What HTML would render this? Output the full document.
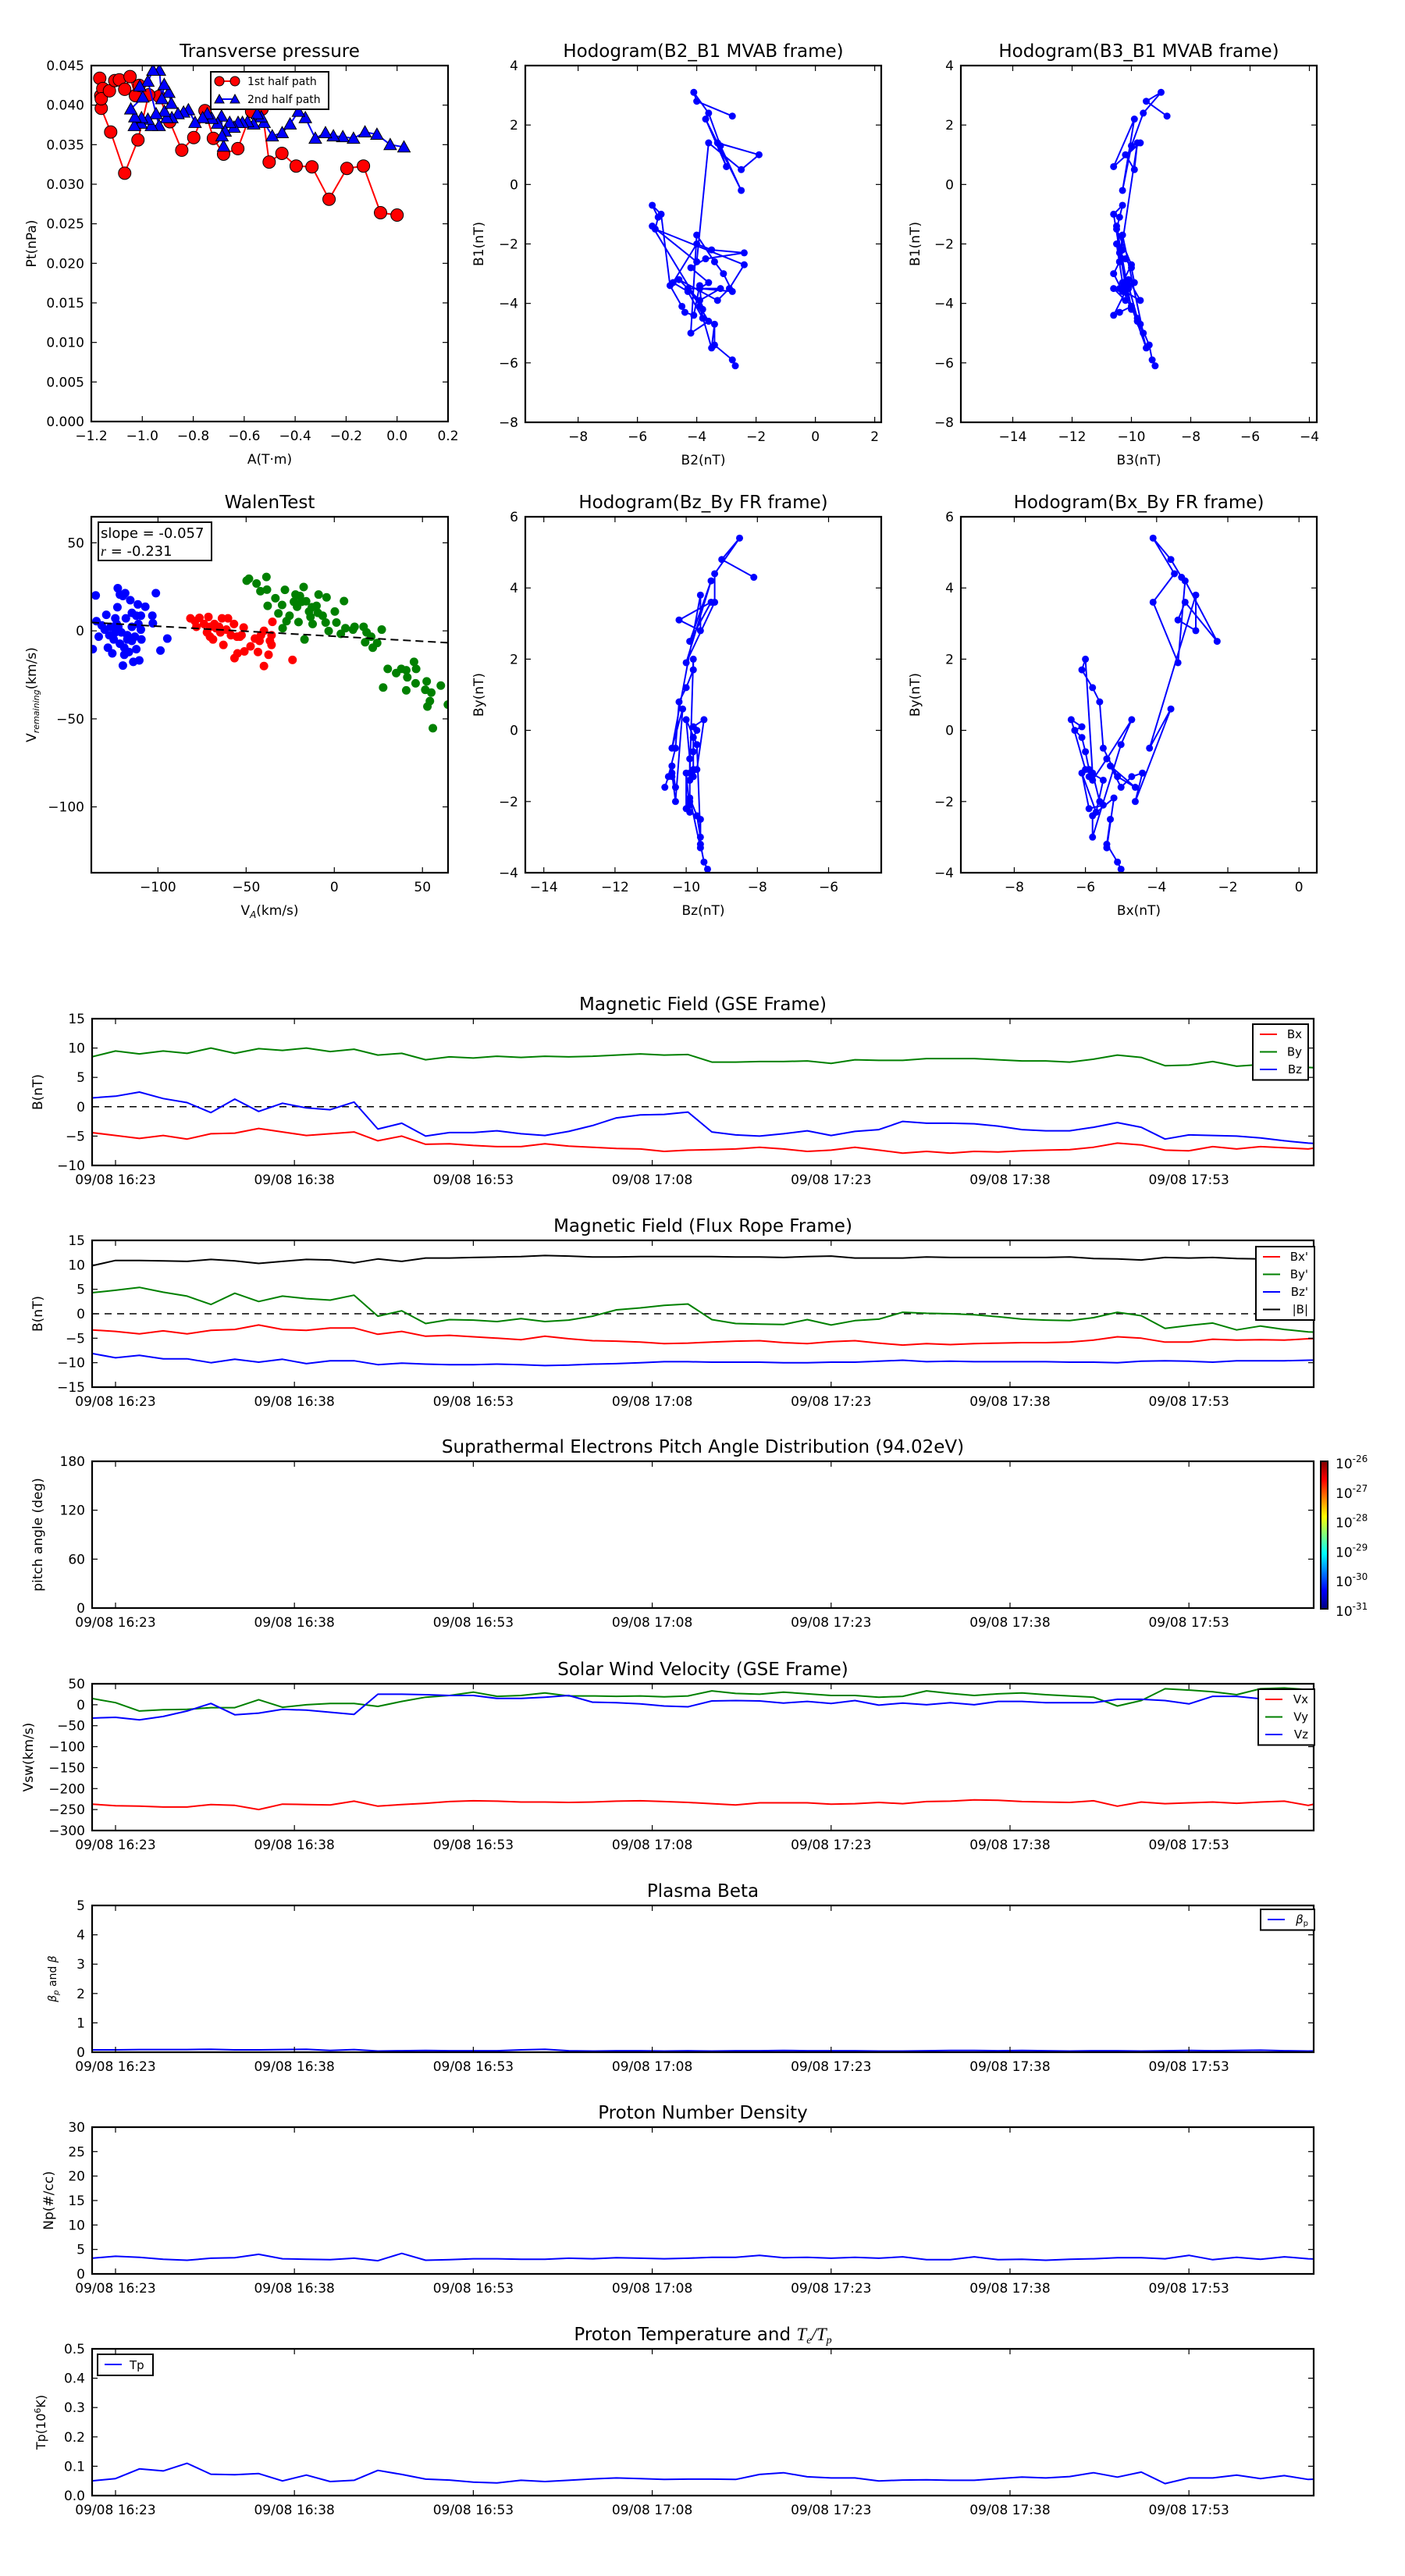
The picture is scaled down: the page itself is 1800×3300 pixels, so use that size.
<!DOCTYPE html>
<html><head><meta charset="utf-8"><title>Flux rope analysis</title>
<style>
html,body{margin:0;padding:0;background:#fff;}
svg{display:block;}
text{font-family:"DejaVu Sans","Liberation Sans",sans-serif;}
</style></head>
<body>
<svg id="figure" xmlns="http://www.w3.org/2000/svg" width="1800" height="3300" viewBox="0 0 1800 3300">
<rect x="0" y="0" width="1800" height="3300" fill="#fff"/>
<defs>
<linearGradient id="jet" x1="0" y1="1" x2="0" y2="0">
<stop offset="0" stop-color="#00007f"/><stop offset="0.125" stop-color="#0000ff"/><stop offset="0.375" stop-color="#00ffff"/><stop offset="0.625" stop-color="#ffff00"/><stop offset="0.875" stop-color="#ff0000"/><stop offset="1" stop-color="#7f0000"/>
</linearGradient>
</defs>
</svg>
<script>
// ---------- data ----------
const times=[-2,0,2,4,6,8,10,12,14,16,18,20,22,24,26,28,30,32,34,36,38,40,42,44,46,48,50,52,54,56,58,60,62,64,66,68,70,72,74,76,78,80,82,84,86,88,90,92,94,96,98,100,102];
const timeTicks=[0,15,30,45,60,75,90];
const timeLabels=['09/08 16:23','09/08 16:38','09/08 16:53','09/08 17:08','09/08 17:23','09/08 17:38','09/08 17:53'];
const bxGSE=[-4.4,-4.9,-5.4,-4.9,-5.5,-4.6,-4.5,-3.7,-4.3,-4.9,-4.6,-4.3,-5.8,-5.0,-6.4,-6.3,-6.6,-6.8,-6.8,-6.3,-6.7,-6.9,-7.1,-7.2,-7.6,-7.4,-7.3,-7.2,-6.9,-7.2,-7.6,-7.4,-6.9,-7.4,-7.9,-7.6,-7.9,-7.6,-7.7,-7.5,-7.4,-7.3,-6.9,-6.2,-6.5,-7.4,-7.5,-6.8,-7.2,-6.8,-7.0,-7.2,-6.6];
const byGSE=[8.5,9.5,9.0,9.5,9.1,10.0,9.1,9.9,9.6,10.0,9.4,9.8,8.8,9.1,8.0,8.5,8.3,8.6,8.4,8.6,8.5,8.6,8.8,9.0,8.8,8.9,7.6,7.6,7.7,7.7,7.8,7.4,8.0,7.9,7.9,8.2,8.2,8.2,8.0,7.8,7.8,7.6,8.1,8.8,8.4,7.0,7.1,7.7,6.9,7.2,7.0,6.7,6.5];
const bzGSE=[1.5,1.8,2.5,1.4,0.7,-1.0,1.3,-0.8,0.6,-0.2,-0.5,0.8,-3.8,-2.8,-5.0,-4.4,-4.4,-4.1,-4.6,-4.9,-4.2,-3.2,-1.9,-1.4,-1.3,-0.9,-4.3,-4.8,-5.0,-4.6,-4.1,-4.9,-4.2,-3.9,-2.5,-2.8,-2.8,-2.9,-3.3,-3.9,-4.1,-4.1,-3.5,-2.7,-3.5,-5.5,-4.8,-4.9,-5.0,-5.3,-5.8,-6.2,-6.4];
const bxFR=[-3.3,-3.6,-4.1,-3.5,-4.1,-3.4,-3.2,-2.3,-3.2,-3.4,-2.9,-2.9,-4.2,-3.6,-4.6,-4.4,-4.7,-5.0,-5.3,-4.6,-5.1,-5.5,-5.6,-5.8,-6.1,-6.0,-5.8,-5.6,-5.5,-5.9,-6.1,-5.7,-5.5,-6.0,-6.4,-6.1,-6.3,-6.1,-6.0,-5.9,-5.9,-5.8,-5.4,-4.7,-5.0,-5.8,-5.8,-5.2,-5.4,-5.3,-5.4,-5.1,-5.0];
const byFR=[4.3,4.8,5.4,4.4,3.6,1.9,4.2,2.5,3.6,3.1,2.8,3.8,-0.5,0.6,-2.0,-1.2,-1.3,-1.6,-1.0,-1.6,-1.3,-0.5,0.8,1.2,1.7,2.0,-1.2,-2.0,-2.1,-2.2,-1.2,-2.3,-1.4,-1.1,0.3,0.1,0.0,-0.2,-0.6,-1.1,-1.3,-1.4,-0.8,0.3,-0.4,-3.0,-2.4,-1.9,-3.3,-2.5,-3.2,-3.7,-3.9];
const bzFR=[-8.1,-9.0,-8.5,-9.2,-9.2,-10.0,-9.3,-9.9,-9.3,-10.2,-9.6,-9.6,-10.4,-10.1,-10.3,-10.4,-10.4,-10.3,-10.4,-10.6,-10.5,-10.3,-10.2,-10.0,-9.8,-9.8,-9.9,-9.9,-9.9,-10.0,-10.0,-9.9,-9.9,-9.7,-9.5,-9.8,-9.7,-9.8,-9.8,-9.8,-9.8,-9.9,-9.9,-10.0,-9.7,-9.6,-9.7,-9.9,-9.6,-9.6,-9.6,-9.5,-9.4];
const bAbs=[9.8,10.9,10.9,10.8,10.7,11.1,10.8,10.3,10.7,11.1,11.0,10.4,11.2,10.7,11.4,11.4,11.5,11.6,11.7,11.9,11.8,11.6,11.6,11.7,11.7,11.7,11.7,11.6,11.6,11.5,11.7,11.8,11.4,11.4,11.4,11.6,11.5,11.5,11.5,11.5,11.5,11.6,11.3,11.2,11.0,11.5,11.4,11.5,11.3,11.2,11.4,11.4,11.4];
const vx=[-237,-241,-242,-244,-244,-238,-240,-250,-237,-238,-239,-230,-242,-238,-235,-231,-229,-230,-232,-232,-233,-232,-230,-229,-231,-233,-236,-239,-234,-234,-234,-237,-236,-233,-236,-231,-230,-227,-228,-231,-232,-233,-229,-242,-232,-236,-234,-232,-235,-232,-230,-240,-228];
const vy=[15,5,-15,-12,-11,-7,-7,12,-6,0,3,3,-4,8,18,22,30,20,22,28,21,21,20,21,19,21,33,27,25,30,26,22,22,18,20,33,27,22,26,28,24,21,18,-3,10,38,35,31,24,38,40,36,34];
const vz=[-32,-30,-36,-28,-15,3,-24,-20,-11,-13,-18,-23,25,25,24,22,22,15,15,18,22,6,5,2,-3,-5,9,10,9,4,8,3,10,-1,4,0,5,0,8,8,5,5,5,13,13,10,2,20,20,14,30,28,28];
const betaP=[0.08,0.08,0.09,0.09,0.09,0.1,0.08,0.08,0.09,0.1,0.06,0.09,0.04,0.05,0.06,0.05,0.05,0.05,0.08,0.1,0.05,0.04,0.05,0.05,0.04,0.05,0.04,0.05,0.05,0.06,0.05,0.05,0.05,0.04,0.04,0.05,0.06,0.06,0.05,0.06,0.05,0.04,0.05,0.05,0.04,0.05,0.06,0.05,0.06,0.07,0.05,0.04,0.05];
const np=[3.2,3.6,3.4,3.0,2.8,3.2,3.3,4.0,3.1,3.0,2.9,3.2,2.7,4.2,2.8,2.9,3.1,3.1,3.0,3.0,3.2,3.1,3.3,3.2,3.1,3.2,3.4,3.4,3.8,3.3,3.4,3.2,3.4,3.2,3.5,2.9,2.9,3.5,2.9,3.0,2.8,3.0,3.1,3.3,3.3,3.1,3.8,2.9,3.4,3.0,3.5,3.1,2.9];
const tp=[0.050,0.058,0.091,0.084,0.110,0.073,0.071,0.075,0.050,0.070,0.048,0.052,0.086,0.072,0.056,0.053,0.046,0.043,0.052,0.048,0.052,0.057,0.060,0.058,0.055,0.056,0.056,0.055,0.072,0.078,0.064,0.060,0.060,0.050,0.053,0.054,0.052,0.052,0.058,0.063,0.060,0.065,0.078,0.063,0.080,0.041,0.060,0.060,0.070,0.058,0.068,0.055,0.058];
// MVAB components
const b1=[2.3,2.8,3.1,2.4,1.3,-0.2,2.2,0.6,1.4,1.0,0.5,1.4,-2.6,-1.4,-4.2,-3.5,-3.5,-3.9,-3.2,-3.9,-3.5,-2.7,-1.5,-1.1,-0.7,-1.0,-3.4,-4.1,-4.3,-4.4,-3.4,-4.5,-3.6,-3.3,-2.0,-2.2,-2.3,-2.5,-2.8,-3.3,-3.5,-3.6,-3.0,-2.6,-1.7,-5.0,-4.6,-4.1,-5.5,-4.7,-5.4,-5.9,-6.1];
const b2=[-2.8,-4.0,-4.1,-3.6,-3.2,-2.5,-3.7,-3.0,-3.3,-1.9,-2.5,-3.6,-4.0,-5.5,-3.8,-4.3,-3.2,-3.9,-4.6,-3.3,-2.9,-2.4,-5.4,-5.3,-5.5,-5.2,-4.9,-4.5,-4.4,-4.1,-3.9,-3.8,-4.3,-4.8,-4.0,-3.5,-2.4,-3.7,-4.2,-3.6,-3.9,-2.8,-3.1,-3.4,-4.0,-4.2,-3.6,-3.9,-3.5,-3.4,-3.4,-2.8,-2.7];
const b3=[-8.8,-9.5,-9.0,-9.6,-10.0,-10.3,-9.9,-10.6,-9.7,-10.2,-9.9,-9.8,-10.4,-10.5,-10.0,-10.3,-10.6,-10.2,-10.1,-9.7,-10.4,-10.0,-10.5,-10.4,-10.3,-10.6,-10.2,-10.0,-10.4,-10.6,-10.1,-9.8,-10.2,-10.3,-10.5,-10.3,-10.4,-10.2,-10.0,-9.9,-10.1,-10.3,-10.6,-10.4,-10.3,-9.6,-9.8,-10.0,-9.5,-9.7,-9.4,-9.3,-9.2];
// transverse pressure
const ptRedA=[0,-0.065,-0.132,-0.197,-0.267,-0.334,-0.396,-0.452,-0.502,-0.53,-0.571,-0.625,-0.681,-0.721,-0.754,-0.798,-0.845,-0.892,-0.934,-0.975,-1.017,-1.069,-1.124,-1.161,-1.163,-1.167,-1.155,-1.161,-1.129,-1.108,-1.09,-1.069,-1.048,-1.027,-1.012];
const ptRedP=[0.0261,0.0264,0.0323,0.032,0.0281,0.0322,0.0323,0.0339,0.0328,0.0395,0.0392,0.0345,0.0338,0.0358,0.0393,0.0359,0.0343,0.0379,0.0411,0.0413,0.0356,0.0314,0.0366,0.0396,0.0412,0.0434,0.0421,0.0408,0.0418,0.0431,0.0432,0.042,0.0436,0.0412,0.0425];
const ptBlueA=[0.027,-0.027,-0.079,-0.126,-0.171,-0.213,-0.25,-0.281,-0.321,-0.36,-0.387,-0.42,-0.451,-0.49,-0.522,-0.533,-0.549,-0.563,-0.587,-0.607,-0.624,-0.64,-0.657,-0.675,-0.681,-0.687,-0.689,-0.704,-0.727,-0.745,-0.763,-0.793,-0.819,-0.838,-0.86,-0.884,-0.904,-0.913,-0.886,-0.896,-0.914,-0.923,-0.933,-0.958,-0.978,-0.946,-0.934,-0.964,-0.978,-1.005,-1.003,-1.031,-1.029,-1.045,-0.998,-1.01];
const ptBlueP=[0.0347,0.035,0.0363,0.0366,0.0358,0.036,0.0361,0.0365,0.0358,0.0384,0.0392,0.0376,0.0365,0.0361,0.0378,0.0385,0.0389,0.0376,0.0379,0.0378,0.0378,0.0372,0.0378,0.0367,0.0348,0.0361,0.0386,0.0377,0.0383,0.0389,0.0384,0.0378,0.0394,0.0391,0.0389,0.0384,0.0384,0.0392,0.0402,0.0416,0.0426,0.0408,0.0444,0.0444,0.043,0.0389,0.0374,0.0374,0.0382,0.0377,0.0384,0.0374,0.0385,0.0395,0.041,0.0424];
// Walen test
const walenBlueX=[-137,-135.3,-134.9,-133.6,-129.3,-128.4,-125.9,-124.2,-122.8,-123,-122.5,-121.6,-119.9,-119.9,-118.6,-118.2,-117.4,-116.5,-115.7,-114.8,-114.8,-114,-112.3,-111.4,-111.1,-110.6,-109.7,-109.4,-109.7,-107.2,-103.2,-102.9,-101.2,-98.6,-94.7,-130.2,-127.6,-125.1,-121.6,-119.1,-120.8,-123.4,-114.8,-113.1,-117.4,-124.2,-131.9,-126.8,-112.3,-119.1];
const walenBlueY=[-10.4,20.1,5.5,-3.3,9.1,-9.6,-12.8,7.1,24.2,13.4,2.3,20.6,19.8,-19.7,21.4,7.1,-2.5,-12,17.4,10.2,-5.7,-17.6,-10.4,15,3.9,-16.8,8.6,-4.9,0.7,13.7,8.6,4.3,21.4,-11.2,-4.4,0.7,-2.5,-4.9,-7.3,-9.6,-0.9,3.9,2.3,-3.3,-4.9,-0.9,3.1,2.3,8.6,-13.6];
const walenRedX=[-81.6,-79,-76.5,-78.2,-73.9,-71.4,-72.2,-70.5,-68.8,-68,-65.4,-63.7,-64.6,-62.9,-61.2,-60.3,-58.6,-56.9,-55.2,-53.5,-51.4,-52.6,-56.6,-54.9,-51,-47.5,-45,-43.3,-42.4,-41.6,-39.9,-39.9,-37.3,-36.5,-35.6,-35.1,-35.6,-23.7,-67.1,-70.5];
const walenRedY=[7.1,5.5,7.4,2.3,3.9,7.9,-0.9,-3.3,-4.9,3.9,2.3,7.1,-0.9,-8,0.7,7.1,-2.5,3.9,-3.3,-3.3,1.9,-2.5,-15.5,-12.8,-11.7,-8.8,-4.4,-12,-5.7,-2.5,0,-20,-13.6,-5.7,-8,5.1,-2.5,-16.5,1.5,2.3];
const walenGreenX=[-49.7,-48.4,-44.1,-41.9,-38.5,-38.2,-37.8,-33.4,-31.7,-29.6,-29.3,-28,-27.1,-25.4,-22,-21.1,-20.3,-18.6,-17.4,-16.9,-16,-14.3,-13.5,-12.3,-10.1,-8.9,-6.6,-4.9,-4.4,-3.2,0.3,1.2,3.7,5.5,6.3,10.6,11.5,16.6,17.5,18.3,20.9,21.8,24.3,26.9,27.7,30.3,35.1,38,40.8,41.4,40.8,45.2,46.4,46.1,52.4,51.6,55,54.2,52.8,55.9,60.4,64.4,-19.5,-22.9,-12.7,-9.3];
const walenGreenY=[28.5,29.6,26.9,22.5,30.6,23.4,14.2,18.5,9.9,14.7,1.5,23.3,5.5,8.6,20.6,13.7,5,16.5,24.9,-4.9,16.8,11,7.9,3.9,14.2,20.6,8.6,4.7,19,-0.1,11,4.7,-1.7,16.9,1.5,0.7,2.3,2.3,-6.5,-0.9,-3.3,-9.6,-6.9,0.7,-32.2,-21.6,-24,-21.6,-22.4,-26.4,-33.8,-17.6,-21.6,-29.8,-28.7,-33.5,-35.1,-39.9,-43,-55.3,-31.1,-41.9,19.8,16.5,13.4,10.2];
const walenSlope=[-0.057];
const walenIntercept=[-3.1];

// ---------- helpers ----------
const NS='http://www.w3.org/2000/svg';
const svg=document.getElementById('figure');
function mk(tag, attrs, parent, name){
  const e=document.createElementNS(NS,tag);
  for(const k in attrs) e.setAttribute(k, attrs[k]);
  
  
  parent.appendChild(e);
  return e;
}
function txt(parent,x,y,s,o,name){
  const t=mk('text',{x:x,y:y,'font-size':o.fs||17,'text-anchor':o.anchor||'middle',fill:'#000'},parent,name);
  if(o.rot) t.setAttribute('transform','rotate(-90 '+x+' '+y+')');
  if(o.html) t.innerHTML=s; else t.textContent=s;
  return t;
}
const fmtM=v=>String(v).replace('-','\u2212');
let clipN=0;
function panel(c){
  const g=mk('g',{},svg,c.name);
  const sx=v=>c.L+(v-c.x0)/(c.x1-c.x0)*(c.R-c.L);
  const sy=v=>c.B-(v-c.y0)/(c.y1-c.y0)*(c.B-c.T);
  const id='clip'+(clipN++);
  const cp=mk('clipPath',{id:id},g,c.name+'-clip');
  mk('rect',{x:c.L,y:c.T,width:c.R-c.L,height:c.B-c.T},cp,c.name+'-clip-rect');
  const data=mk('g',{'clip-path':'url(#'+id+')'},g,c.name+'-data');
  return {g:g,data:data,sx:sx,sy:sy,c:c};
}
function finish(p){
  const c=p.c, g=p.g, tl=7;
  const ax=mk('g',{},g,c.name+'-axes');
  c.xt.forEach((v,i)=>{
    const x=p.sx(v);
    mk('line',{x1:x,y1:c.B,x2:x,y2:c.B-tl,stroke:'#000','stroke-width':1.2},ax,'x-tick');
    mk('line',{x1:x,y1:c.T,x2:x,y2:c.T+tl,stroke:'#000','stroke-width':1.2},ax,'x-tick-top');
    txt(ax,x,c.B+24,c.xl[i],{fs:c.fs||17},'x-tick-label');
  });
  c.yt.forEach((v,i)=>{
    const y=p.sy(v);
    mk('line',{x1:c.L,y1:y,x2:c.L+tl,y2:y,stroke:'#000','stroke-width':1.2},ax,'y-tick');
    mk('line',{x1:c.R,y1:y,x2:c.R-tl,y2:y,stroke:'#000','stroke-width':1.2},ax,'y-tick-right');
    txt(ax,c.L-9,y+6,c.yl[i],{fs:c.fs||17,anchor:'end'},'y-tick-label');
  });
  mk('rect',{x:c.L,y:c.T,width:c.R-c.L,height:c.B-c.T,fill:'none',stroke:'#000','stroke-width':2.2},ax,c.name+'-frame');
  txt(ax,(c.L+c.R)/2,c.T-11,c.title,{fs:23,html:true},'chart-title');
  if(c.xlabel) txt(ax,(c.L+c.R)/2,c.B+54,c.xlabel,{fs:17,html:true},'x-axis-title');
  if(c.ylabel) txt(ax,c.ylx,(c.T+c.B)/2,c.ylabel,{fs:c.ylfs||17,rot:true,html:true},'y-axis-title');
}
function line(p,xs,ys,color,w,name){
  const pts=xs.map((x,i)=>p.sx(x).toFixed(1)+','+p.sy(ys[i]).toFixed(1)).join(' ');
  return mk('polyline',{points:pts,fill:'none',stroke:color,'stroke-width':w,'stroke-linejoin':'round'},p.data,name);
}
function dots(p,xs,ys,color,r,name,stroke){
  xs.forEach((x,i)=>{
    const a={cx:p.sx(x),cy:p.sy(ys[i]),r:r,fill:color};
    if(stroke){a.stroke='#000';a['stroke-width']=1;}
    mk('circle',a,p.data,name);
  });
}
function tris(p,xs,ys,color,s,name){
  xs.forEach((x,i)=>{
    const cx=p.sx(x), cy=p.sy(ys[i]);
    mk('polygon',{points:(cx)+','+(cy-s)+' '+(cx-s)+','+(cy+s*0.8)+' '+(cx+s)+','+(cy+s*0.8),fill:color,stroke:'#000','stroke-width':1},p.data,name);
  });
}
function range(a,b,s){const r=[];for(let v=a;v<=b+1e-9;v+=s)r.push(+v.toFixed(4));return r;}

// ---------- Transverse pressure ----------
{
  const xt=range(-1.2,0.2,0.2), yt=range(0,0.045,0.005);
  const p=panel({name:'transverse-pressure-chart',L:117,R:574,T:84,B:540,x0:-1.2,x1:0.2,y0:0,y1:0.045,
    xt:xt,xl:xt.map(v=>fmtM(v.toFixed(1))),yt:yt,yl:yt.map(v=>v.toFixed(3)),
    title:'Transverse pressure',xlabel:'A(T·m)',ylabel:'Pt(nPa)',ylx:46});
  line(p,ptRedA,ptRedP,'#ff0000',2,'first-half-path-line');
  dots(p,ptRedA,ptRedP,'#ff0000',8,'first-half-path-point',true);
  line(p,ptBlueA,ptBlueP,'#0000ff',2,'second-half-path-line');
  tris(p,ptBlueA,ptBlueP,'#0000ff',8,'second-half-path-point');
  finish(p);
  const lg=mk('g',{},p.g,'pressure-legend');
  mk('rect',{x:270,y:92,width:151,height:48,fill:'#fff',stroke:'#000','stroke-width':2},lg,'legend-box');
  mk('line',{x1:281,y1:104,x2:301,y2:104,stroke:'#ff0000','stroke-width':2},lg,'legend-line-first');
  mk('circle',{cx:281,cy:104,r:6,fill:'#ff0000',stroke:'#000'},lg,'legend-marker-first');
  mk('circle',{cx:301,cy:104,r:6,fill:'#ff0000',stroke:'#000'},lg,'legend-marker-first');
  txt(lg,317,109,'1st half path',{fs:14,anchor:'start'},'legend-entry-first');
  mk('line',{x1:281,y1:127,x2:301,y2:127,stroke:'#0000ff','stroke-width':2},lg,'legend-line-second');
  mk('polygon',{points:'281,121 275,132 287,132',fill:'#0000ff',stroke:'#000'},lg,'legend-marker-second');
  mk('polygon',{points:'301,121 295,132 307,132',fill:'#0000ff',stroke:'#000'},lg,'legend-marker-second');
  txt(lg,317,132,'2nd half path',{fs:14,anchor:'start'},'legend-entry-second');
}
// ---------- Hodograms ----------
function hodo(name,L,T,B,x0,x1,y0,y1,xt,yt,title,xlabel,ylabel,ylx,xs,ys){
  const p=panel({name:name,L:L,R:L+456,T:T,B:B,x0:x0,x1:x1,y0:y0,y1:y1,
    xt:xt,xl:xt.map(v=>fmtM(v)),yt:yt,yl:yt.map(v=>fmtM(v)),
    title:title,xlabel:xlabel,ylabel:ylabel,ylx:ylx});
  line(p,xs,ys,'#0000ff',2,name+'-path');
  dots(p,xs,ys,'#0000ff',4.5,name+'-point');
  finish(p);
}
hodo('hodogram-b2-b1',673,84,541,-9.78,2.22,-8,4,[-8,-6,-4,-2,0,2],[-8,-6,-4,-2,0,2,4],'Hodogram(B2_B1 MVAB frame)','B2(nT)','B1(nT)',619,b2,b1);
hodo('hodogram-b3-b1',1231,84,541,-15.75,-3.75,-8,4,[-14,-12,-10,-8,-6,-4],[-8,-6,-4,-2,0,2,4],'Hodogram(B3_B1 MVAB frame)','B3(nT)','B1(nT)',1178,b3,b1);
hodo('hodogram-bz-by',673,662,1118,-14.52,-4.52,-4,6,[-14,-12,-10,-8,-6],[-4,-2,0,2,4,6],'Hodogram(Bz_By FR frame)','Bz(nT)','By(nT)',619,bzFR,byFR);
hodo('hodogram-bx-by',1231,662,1118,-9.5,0.5,-4,6,[-8,-6,-4,-2,0],[-4,-2,0,2,4,6],'Hodogram(Bx_By FR frame)','Bx(nT)','By(nT)',1178,bxFR,byFR);
// ---------- Walen test ----------
{
  const p=panel({name:'walen-test-chart',L:117,R:574,T:662,B:1118,x0:-137.8,x1:64.5,y0:-137.4,y1:64.8,
    xt:[-100,-50,0,50],xl:['\u2212100','\u221250','0','50'],yt:[-100,-50,0,50],yl:['\u2212100','\u221250','0','50'],
    title:'WalenTest',xlabel:'V<tspan font-size="12" font-style="italic" dy="4">A</tspan><tspan dy="-4">(km/s)</tspan>',
    ylabel:'V<tspan font-size="11" font-style="italic" dy="4">remaining</tspan><tspan dy="-4">(km/s)</tspan>',ylx:46});
  dots(p,walenBlueX,walenBlueY,'#0000ff',5.5,'walen-point-blue');
  dots(p,walenRedX,walenRedY,'#ff0000',5.5,'walen-point-red');
  dots(p,walenGreenX,walenGreenY,'#008000',5.5,'walen-point-green');
  const fx=[-137.8,64.5], fy=fx.map(x=>walenSlope[0]*x+walenIntercept[0]);
  const fl=line(p,fx,fy,'#000',2,'walen-fit-line');
  fl.setAttribute('stroke-dasharray','10,6');
  finish(p);
  const b=mk('g',{},p.g,'walen-stats-box');
  mk('rect',{x:126,y:669,width:145,height:49,fill:'#fff',stroke:'#000','stroke-width':2},b,'stats-box');
  txt(b,129,689,'slope = -0.057',{fs:18,anchor:'start'},'slope-text');
  txt(b,129,712,'<tspan font-style="italic" font-family="Liberation Serif, serif">r</tspan> = -0.231',{fs:18,anchor:'start',html:true},'r-text');
}
// ---------- time series ----------
const TL=118,TR=1683,T0=-1.963,T1=100.46;
function tpanel(name,T,y0,y1,yt,yl,title,ylabel,ylx,ylfs){
  return panel({name:name,L:TL,R:TR,T:T,B:T+188,x0:T0,x1:T1,y0:y0,y1:y1,xt:timeTicks,xl:timeLabels,yt:yt,yl:yl,
    title:title,ylabel:ylabel,ylx:ylx,ylfs:ylfs});
}
function legend(p,x,y,w,entries,name){
  const lg=mk('g',{},p.g,name);
  mk('rect',{x:x,y:y,width:w,height:entries.length*22.5+4,fill:'#fff',stroke:'#000','stroke-width':2},lg,'legend-box');
  entries.forEach((e,i)=>{
    const yy=y+13+i*22.5;
    mk('line',{x1:x+9,y1:yy,x2:x+31,y2:yy,stroke:e[1],'stroke-width':2},lg,'legend-line');
    txt(lg,x+w-8,yy+5,e[0],{fs:15,anchor:'end',html:true},'legend-entry');
  });
}
const mm=v=>String(v).replace('-','\u2212');
{
  const p=tpanel('magnetic-field-gse-chart',1305,-10,15,[-10,-5,0,5,10,15],[-10,-5,0,5,10,15].map(mm),'Magnetic Field (GSE Frame)','B(nT)',54);
  const z=line(p,[T0,T1],[0,0],'#000',1.5,'zero-line'); z.setAttribute('stroke-dasharray','9,7');
  line(p,times,bxGSE,'#ff0000',2,'bx-line');
  line(p,times,byGSE,'#008000',2,'by-line');
  line(p,times,bzGSE,'#0000ff',2,'bz-line');
  finish(p);
  legend(p,1605,1312,71,[['Bx','#ff0000'],['By','#008000'],['Bz','#0000ff']],'gse-legend');
}
{
  const yt=[-15,-10,-5,0,5,10,15];
  const p=tpanel('magnetic-field-fr-chart',1589,-15,15,yt,yt.map(mm),'Magnetic Field (Flux Rope Frame)','B(nT)',54);
  const z=line(p,[T0,T1],[0,0],'#000',1.5,'zero-line'); z.setAttribute('stroke-dasharray','9,7');
  line(p,times,bxFR,'#ff0000',2,'bx-prime-line');
  line(p,times,byFR,'#008000',2,'by-prime-line');
  line(p,times,bzFR,'#0000ff',2,'bz-prime-line');
  line(p,times,bAbs,'#000000',2,'b-magnitude-line');
  finish(p);
  legend(p,1609,1597,75,[["Bx'",'#ff0000'],["By'",'#008000'],["Bz'",'#0000ff'],['|B|','#000']],'fr-legend');
}
{
  const p=tpanel('pitch-angle-chart',1872,0,180,[0,60,120,180],['0','60','120','180'],'Suprathermal Electrons Pitch Angle Distribution (94.02eV)','pitch angle (deg)',54);
  finish(p);
  const cb=mk('g',{},p.g,'colorbar');
  mk('rect',{x:1692,y:1872,width:9,height:189,fill:'url(#jet)',stroke:'#000','stroke-width':2},cb,'colorbar-gradient');
  const cbExp=['-26','-27','-28','-29','-30','-31'];
  cbExp.forEach((e,i)=>{
    const y=1872+i*189/5;
    txt(cb,1711,y+9,'10<tspan font-size="12" dy="-8">'+e+'</tspan>',{fs:17,anchor:'start',html:true},'colorbar-label');
  });
}
{
  const yt=[-300,-250,-200,-150,-100,-50,0,50];
  const p=tpanel('solar-wind-velocity-chart',2157,-300,50,yt,yt.map(mm),'Solar Wind Velocity (GSE Frame)','Vsw(km/s)',42);
  line(p,times,vx,'#ff0000',2,'vx-line');
  line(p,times,vy,'#008000',2,'vy-line');
  line(p,times,vz,'#0000ff',2,'vz-line');
  finish(p);
  legend(p,1612,2164,72,[['Vx','#ff0000'],['Vy','#008000'],['Vz','#0000ff']],'velocity-legend');
}
{
  const yt=[0,1,2,3,4,5];
  const p=tpanel('plasma-beta-chart',2441,0,5,yt,yt.map(String),'Plasma Beta','<tspan font-style="italic">β</tspan><tspan font-size="10" font-style="italic" dy="3">p</tspan><tspan dy="-3"> and </tspan><tspan font-style="italic">β</tspan>',72,14);
  line(p,times,betaP,'#0000ff',2,'beta-p-line');
  finish(p);
  legend(p,1615,2446,69,[['<tspan font-style="italic">β</tspan><tspan font-size="10" dy="3">p</tspan>','#0000ff']],'beta-legend');
}
{
  const yt=[0,5,10,15,20,25,30];
  const p=tpanel('proton-density-chart',2725,0,30,yt,yt.map(String),'Proton Number Density','Np(#/cc)',68);
  line(p,times,np,'#0000ff',2,'np-line');
  finish(p);
}
{
  const yt=[0,0.1,0.2,0.3,0.4,0.5];
  const p=tpanel('proton-temperature-chart',3009,0,0.5,yt,yt.map(v=>v.toFixed(1)),'Proton Temperature and <tspan font-style="italic" font-family="Liberation Serif, serif">T<tspan font-size="14" dy="4">e</tspan><tspan dy="-4">/T</tspan><tspan font-size="14" dy="4">p</tspan></tspan>','Tp(10<tspan font-size="11" dy="-6">6</tspan><tspan dy="6">K)</tspan>',58,16);
  line(p,times,tp,'#0000ff',2,'tp-line');
  finish(p);
  const lg=mk('g',{},p.g,'tp-legend');
  mk('rect',{x:125,y:3016,width:71,height:27,fill:'#fff',stroke:'#000','stroke-width':2},lg,'legend-box');
  mk('line',{x1:134,y1:3029,x2:156,y2:3029,stroke:'#0000ff','stroke-width':2},lg,'legend-line');
  txt(lg,166,3035,'Tp',{fs:15,anchor:'start'},'legend-entry');
}
</script>
</body></html>
